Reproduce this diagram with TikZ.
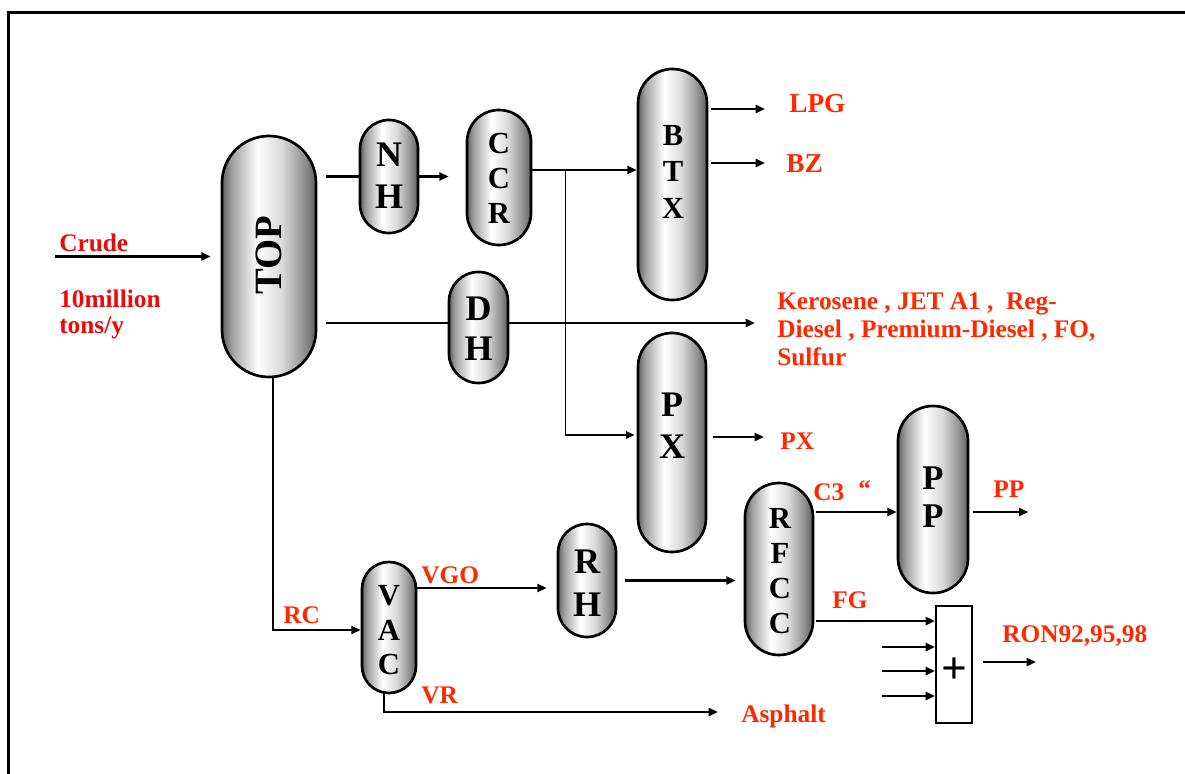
\documentclass[tikz,border=0pt]{standalone}
\usepackage{fontspec}
\setmainfont{Liberation Serif}
\usetikzlibrary{arrows.meta,calc,backgrounds}
\definecolor{lred}{RGB}{255,40,0}
\definecolor{cred}{RGB}{235,10,10}
\pgfdeclarehorizontalshading{capshade}{100bp}{color(0bp)=(black!62); color(25bp)=(black!62); color(30bp)=(black!38); color(44bp)=(white); color(57bp)=(black!15); color(68bp)=(black!42); color(75bp)=(black!62); color(100bp)=(black!62)}
\tikzset{
  capsule/.style={draw, line width=2pt, shading=capshade, inner sep=0pt},
  lett/.style 2 args={align=center, inner sep=0pt, anchor=north, font=\fontsize{#1}{#2}\selectfont\bfseries},
  lab/.style={inner sep=0pt, text=lred, font=\fontsize{19}{21}\selectfont\bfseries},
  arr/.style={line width=1.9pt, -{Triangle[length=7pt,width=6pt]}},
  arrthin/.style={line width=1.1pt, -{Triangle[length=6.5pt,width=5.5pt]}},
  ln/.style={line width=1.9pt}
}
\begin{document}
\begin{tikzpicture}[x=0.75pt,y=-0.75pt]
\useasboundingbox (0,0) rectangle (1185,774);
\draw[line width=2pt] (8.3,774) -- (8.3,12.5) -- (1185,12.5);

% capsules
\node[capsule, minimum width=70.5pt, minimum height=180.75pt, rounded corners=35.15pt] (top) at (269,256.5) {};
\node[capsule, minimum width=43.5pt, minimum height=84.75pt, rounded corners=21.65pt] (nh) at (389,176.5) {};
\node[capsule, minimum width=48pt, minimum height=101.25pt, rounded corners=23.9pt] (ccr) at (499,177.5) {};
\node[capsule, minimum width=51.75pt, minimum height=173.25pt, rounded corners=25.78pt] (btx) at (672.5,184.5) {};
\node[capsule, minimum width=44.25pt, minimum height=83.25pt, rounded corners=22.03pt] (dh) at (478.5,327.5) {};
\node[capsule, minimum width=51pt, minimum height=164.25pt, rounded corners=25.4pt] (px) at (672,442.5) {};
\node[capsule, minimum width=52.5pt, minimum height=140.25pt, rounded corners=26.15pt] (pp) at (933,499.5) {};
\node[capsule, minimum width=51pt, minimum height=129pt, rounded corners=25.4pt] (rfcc) at (779,569) {};
\node[capsule, minimum width=43.5pt, minimum height=84.75pt, rounded corners=21.65pt] (rh) at (587,580.5) {};
\node[capsule, minimum width=40.5pt, minimum height=98.25pt, rounded corners=20.15pt] (vac) at (389,627.5) {};
\node[draw, line width=1.5pt, fill=white, minimum width=27pt, minimum height=87.75pt, inner sep=0pt] (plus) at (954,664.5) {};

% capsule texts
\node[inner sep=0pt, rotate=90, font=\fontsize{29}{29}\selectfont\bfseries] (topt) at (269,255) {TOP};
\node[lett={27}{31.5}] (nht) at (389,143) {N\\H};
\node[lett={23}{26.25}] (ccrt) at (499,133) {C\\C\\R};
\node[lett={23}{27.4}] (btxt) at (673,125) {B\\T\\X};
\node[lett={27}{30}] (dht) at (478.5,297) {D\\H};
\node[lett={27}{31.5}] (pxt) at (672,393) {P\\X};
\node[lett={26}{28.5}] (ppt) at (933,467) {P\\P};
\node[lett={23}{26.25}] (rfcct) at (780,508) {R\\F\\C\\C};
\node[lett={27}{32}] (rht) at (587,550) {R\\H};
\node[lett={23}{26}] (vact) at (389,585) {V\\A\\C};
\node[inner sep=0pt, font=\fontsize{34}{34}\selectfont\bfseries] (plust) at (954,670.5) {+};

% labels
\node[lab, text=cred, anchor=base west] (crude) at (59,251) {Crude};
\node[lab, text=cred, anchor=north west, align=left, font=\fontsize{19}{19.5}\selectfont\bfseries] (mill) at (59,290) {10million\\tons/y};
\node[lab, anchor=base west, font=\fontsize{20.5}{22}\selectfont\bfseries] (lpg) at (789,113) {LPG};
\node[lab, anchor=base west, font=\fontsize{20.5}{22}\selectfont\bfseries] (bz) at (786,172) {BZ};
\node[lab, anchor=north west, align=left, font=\fontsize{19}{21}\selectfont\bfseries] (kero) at (777,293) {Kerosene , JET A1 ,\ \ Reg-\\Diesel , Premium-Diesel , FO,\\Sulfur};
\node[lab, anchor=base west] (pxl) at (780,449) {PX};
\node[lab, anchor=base west] (ppl) at (993,497) {PP};
\node[lab, anchor=base west] (c3) at (813,500) {C3};
\node[lab, anchor=north west] (quote) at (858,480) {“};
\node[lab, anchor=base west] (fg) at (832,608) {FG};
\node[lab, anchor=base west] (ron) at (1002,642) {RON92,95,98};
\node[lab, anchor=base west] (asph) at (741,722) {Asphalt};
\node[lab, anchor=base west] (rc) at (283,623) {RC};
\node[lab, anchor=base west] (vgo) at (421,583) {VGO};
\node[lab, anchor=base west] (vr) at (421,703) {VR};

% coordinates
\coordinate (crudein) at (55,256.5);
\coordinate (c1) at ($(ccr.east)+(0,-7.5)$);
\coordinate (c2) at ($(c1)+(33,0)$);
\coordinate (p1) at ($(px.west)+(0,-7.5)$);
\coordinate (b1) at ($(btx.east)+(3,-75.5)$);
\coordinate (b2) at ($(btx.east)+(3,-21.5)$);
\coordinate (t1) at ($(top.east)+(9,66.5)$);
\coordinate (x1) at ($(px.east)+(6,-5.5)$);
\coordinate (t2) at ($(top.south)+(4,0)$);
\coordinate (v1) at ($(vac.west)+(0,2.5)$);
\coordinate (v2) at ($(vac.east)+(0,-39.5)$);
\coordinate (h1) at ($(rh.east)+(8,0)$);
\coordinate (v3) at ($(vac.south)+(-5,0)$);
\coordinate (asphin) at ($(asph.base west)+(-23,-10)$);
\coordinate (r1) at ($(rfcc.east)+(2,-57)$);
\coordinate (p2) at ($(pp.east)+(4,12.5)$);
\coordinate (ppout) at ($(p2)+(55,0)$);
\coordinate (r2) at ($(rfcc.east)+(2,52)$);
\coordinate (in1) at (882,647);
\coordinate (in2) at (882,671);
\coordinate (in3) at (882,696);
\coordinate (q1) at ($(plus.east)+(10,-2.5)$);
\coordinate (ronout) at ($(q1)+(53,0)$);

\begin{pgfonlayer}{background}
\draw[arr, shorten >=7.5pt] (crudein) -- (crudein -| top.west);
\draw[ln] ($(top.east |- nh.west)+(9,0)$) -- (nh.west);
\draw[arr, shorten >=12.75pt] (nh.east) -- (nh.east -| ccr.west);
\draw[arr] (c1) -- (c1 -| btx.west);
\draw[arrthin, shorten >=1.5pt] (c2) |- (p1);
\draw[arr, shorten >=18pt] (b1) -- (b1 -| lpg.west);
\draw[arr, shorten >=15.75pt] (b2) -- (b2 -| bz.west);
\draw[arr, shorten >=16.5pt] (t1) -- (t1 -| kero.west);
\draw[arr, shorten >=12pt] (x1) -- (x1 -| pxl.west);
\draw[line width=1.5pt, -{Triangle[length=7pt,width=6pt]}] (t2) |- (v1);
\draw[arr, shorten >=7.5pt] (v2) -- (v2 -| rh.west);
\draw[arr, shorten >=6pt] (h1) -- (h1 -| rfcc.west);
\draw[arr] (v3) |- (asphin);
\draw[arr] (r1) -- (r1 -| pp.west);
\draw[arr] (p2) -- (ppout);
\draw[arr] (r2) -- (r2 -| plus.west);
\draw[arr] (in1) -- (in1 -| plus.west);
\draw[arr] (in2) -- (in2 -| plus.west);
\draw[arr] (in3) -- (in3 -| plus.west);
\draw[arr] (q1) -- (ronout);
\end{pgfonlayer}
\end{tikzpicture}
\end{document}
